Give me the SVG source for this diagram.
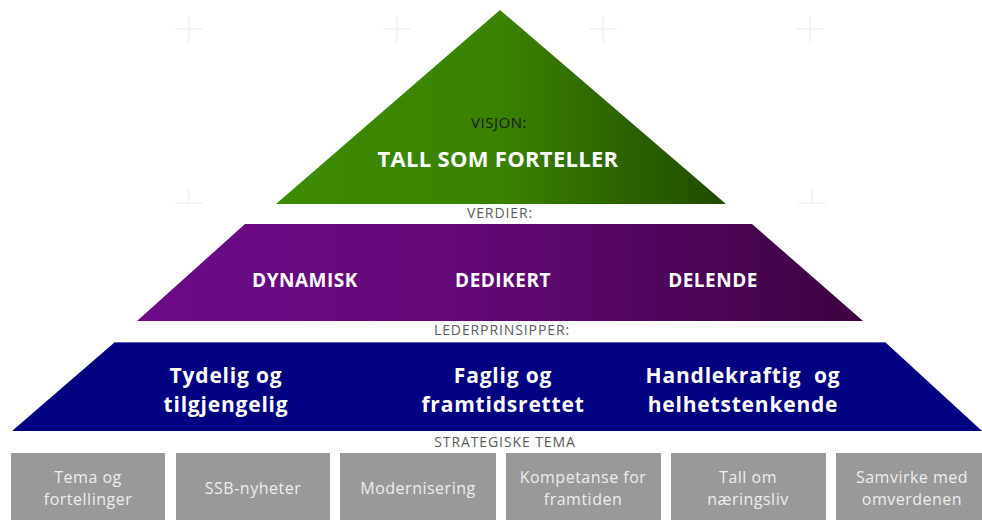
<svg xmlns="http://www.w3.org/2000/svg" width="982" height="520" viewBox="0 0 982 520">
<defs>
<linearGradient id="gGreen" x1="0" y1="0" x2="1" y2="0">
<stop offset="0" stop-color="#3d8a03"/>
<stop offset="0.5" stop-color="#3a8200"/>
<stop offset="1" stop-color="#1f4a00"/>
</linearGradient>
<linearGradient id="gPurple" x1="0" y1="0" x2="1" y2="0">
<stop offset="0" stop-color="#6c0a88"/>
<stop offset="0.45" stop-color="#640878"/>
<stop offset="1" stop-color="#3c0340"/>
</linearGradient>
<style>
.bg{stroke:#f2f2f2;stroke-width:1.5;fill:none}
.lbl{font-family:"Open Sans","Liberation Sans",sans-serif;font-size:14px;letter-spacing:0.9px;fill:#5a5a5a;text-anchor:middle}
.big{font-family:"Open Sans","Liberation Sans",sans-serif;font-weight:bold;fill:#fff;text-anchor:middle}
.box{fill:#999999}
.bt{font-family:"Open Sans","Liberation Sans",sans-serif;font-size:16px;letter-spacing:0.5px;fill:#eeeeee;text-anchor:middle}
</style>
</defs>
<rect width="982" height="520" fill="#fff"/>
<g id="background">
<path class="bg" d="M189 16V43M175 29H203"/>
<path class="bg" d="M397 16V43M383 29H411"/>
<path class="bg" d="M603 16V43M589 29H617"/>
<path class="bg" d="M810 16V43M796 29H824"/>
<path class="bg" d="M189 189V204M175 203H203"/>
<path class="bg" d="M812 189V204M798 203H826"/>
</g>
<g id="vision">
<polygon points="500,10 726,204 276,204" fill="url(#gGreen)"/>
<text x="499" y="128" font-family="Open Sans, Liberation Sans, sans-serif" font-size="15" letter-spacing="0.5" fill="#1a1a1a" text-anchor="middle">VISJON:</text>
<text class="big" x="498" y="167" font-size="22" letter-spacing="0.3">TALL SOM FORTELLER</text>
</g>
<text class="lbl" x="500" y="218">VERDIER:</text>
<g id="values">
<polygon points="245,224 752,224 863,321 137,321" fill="url(#gPurple)"/>
<text class="big" x="305" y="287" font-size="19" letter-spacing="0.5">DYNAMISK</text>
<text class="big" x="503" y="287" font-size="19" letter-spacing="0.5">DEDIKERT</text>
<text class="big" x="713" y="287" font-size="19" letter-spacing="0.5">DELENDE</text>
</g>
<text class="lbl" x="502" y="335">LEDERPRINSIPPER:</text>
<g id="principles">
<polygon points="115,342 885,342 982,431 12,431" fill="#000080"/>
<line x1="115" y1="342.5" x2="885" y2="342.5" stroke="#5a66b0" stroke-width="1"/>
<text class="big" font-size="21" letter-spacing="0.8"><tspan x="226" y="383">Tydelig og</tspan><tspan x="226" y="412">tilgjengelig</tspan></text>
<text class="big" font-size="21" letter-spacing="0.8"><tspan x="503" y="383">Faglig og</tspan><tspan x="503" y="412">framtidsrettet</tspan></text>
<text class="big" font-size="21" letter-spacing="0.8" xml:space="preserve"><tspan x="743" y="383">Handlekraftig  og</tspan><tspan x="743" y="412">helhetstenkende</tspan></text>
</g>
<text class="lbl" x="505" y="447">STRATEGISKE TEMA</text>
<g id="t1"><rect class="box" x="11" y="453" width="154" height="67"/><text class="bt"><tspan x="88" y="483">Tema og</tspan><tspan x="88" y="505">fortellinger</tspan></text></g>
<g id="t2"><rect class="box" x="176" y="453" width="154" height="67"/><text class="bt" x="253" y="494">SSB-nyheter</text></g>
<g id="t3"><rect class="box" x="340" y="453" width="156" height="67"/><text class="bt" x="418" y="494">Modernisering</text></g>
<g id="t4"><rect class="box" x="506" y="453" width="155" height="67"/><text class="bt"><tspan x="583" y="483">Kompetanse for</tspan><tspan x="583" y="505">framtiden</tspan></text></g>
<g id="t5"><rect class="box" x="671" y="453" width="155" height="67"/><text class="bt"><tspan x="748" y="483">Tall om</tspan><tspan x="748" y="505">næringsliv</tspan></text></g>
<g id="t6"><rect class="box" x="836" y="453" width="146" height="67"/><text class="bt"><tspan x="912" y="483">Samvirke med</tspan><tspan x="912" y="505">omverdenen</tspan></text></g>
</svg>
